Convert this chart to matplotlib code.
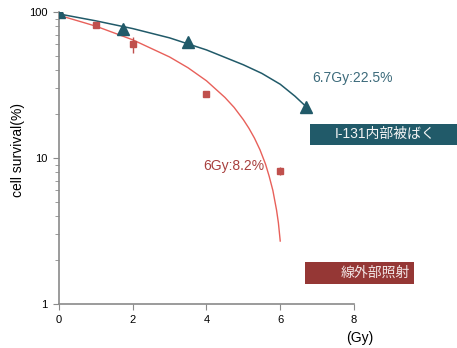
import matplotlib
matplotlib.use("Agg")
import matplotlib.pyplot as plt
from matplotlib.patches import Rectangle
from matplotlib.ticker import FixedLocator, LogLocator, NullFormatter

plt.rcParams['font.family'] = ['Liberation Sans', 'Noto Sans CJK JP', 'DejaVu Sans']

# measured points: external irradiation (red squares)
ext_dose = [0, 1, 2, 4, 6]
ext_surv = [100, 81.5, 60, 27.5, 8.2]
ext_err = [0, 0, 7.5, 0, 0.5]
# fitted curve
ext_fit_x = [0, 1, 2, 3, 3.5, 4, 4.5, 4.75, 5, 5.15, 5.3, 5.45, 5.6, 5.7, 5.8, 5.9, 5.95, 6.0]
ext_fit_y = [95, 80, 64.5, 49.2, 41.5, 33.8, 26, 22.2, 18.3, 16, 13.7, 11.4, 9.1, 7.5, 6.0, 4.4, 3.6, 2.7]

# I-131 internal exposure (teal triangles)
int_dose = [0, 1.75, 3.5, 6.7]
int_surv = [100, 76.5, 62, 22.5]
int_fit_x = [0, 1, 2, 3, 4, 5, 5.5, 6, 6.4, 6.7]
int_fit_y = [97, 87, 77, 66.5, 55, 43.5, 38, 32, 26.5, 22.5]

red_pt = '#c0504d'
red_line = '#e8605a'
red_box = '#953735'
teal = '#215a69'

fig = plt.figure(figsize=(4.57, 3.48), dpi=100)
ax = fig.add_axes([0.129, 0.1264, 0.6456, 0.8391])

ax.plot(int_fit_x, int_fit_y, color=teal, lw=1.1)
ax.plot(ext_fit_x, ext_fit_y, color=red_line, lw=1.0)
ax.errorbar(ext_dose, ext_surv, yerr=ext_err, fmt='s', color=red_pt, ms=5,
            ecolor=red_pt, elinewidth=1, capsize=0, zorder=3)
ax.plot(int_dose, int_surv, '^', color=teal, ms=8, zorder=4)

ax.set_yscale('log')
ax.set_xlim(0, 8)
ax.set_ylim(1, 100)
ax.xaxis.set_major_locator(FixedLocator([0, 2, 4, 6, 8]))
ax.yaxis.set_major_locator(FixedLocator([1, 10, 100]))
ax.set_yticklabels(['1', '10', '100'])
ax.yaxis.set_minor_locator(LogLocator(base=10, subs=range(2, 10)))
ax.yaxis.set_minor_formatter(NullFormatter())

for s in ['top', 'right']:
    ax.spines[s].set_visible(False)
for s in ['left', 'bottom']:
    ax.spines[s].set_color('#8a8a8a')
    ax.spines[s].set_linewidth(1.2)
ax.tick_params(axis='both', which='both', color='#8a8a8a', labelsize=8, direction='out')
ax.tick_params(axis='both', which='major', length=4, pad=4)
ax.tick_params(axis='y', which='minor', length=3)

fig.text(0.04, 0.57, 'cell survival(%)', rotation=90, ha='center', va='center', fontsize=10)
fig.text(0.788, 0.03, '(Gy)', ha='center', va='center', fontsize=10)

fig.text(0.683, 0.776, '6.7Gy:22.5%', color='#3d6b7b', fontsize=10, ha='left', va='center')
fig.text(0.445, 0.523, '6Gy:8.2%', color='#a8403e', fontsize=10, ha='left', va='center')

# label boxes
fig.patches.append(Rectangle((0.678, 0.583), 0.322, 0.061, transform=fig.transFigure,
                             fc=teal, ec='none'))
fig.text(0.842, 0.614, 'I-131内部被ばく', color='#f4f4f4', fontsize=10, ha='center', va='center')
fig.patches.append(Rectangle((0.667, 0.184), 0.2385, 0.063, transform=fig.transFigure,
                             fc=red_box, ec='none'))
fig.text(0.822, 0.216, '線外部照射', color='#f2e6e6', fontsize=10, ha='center', va='center')

fig.savefig('out.png', dpi=100)
